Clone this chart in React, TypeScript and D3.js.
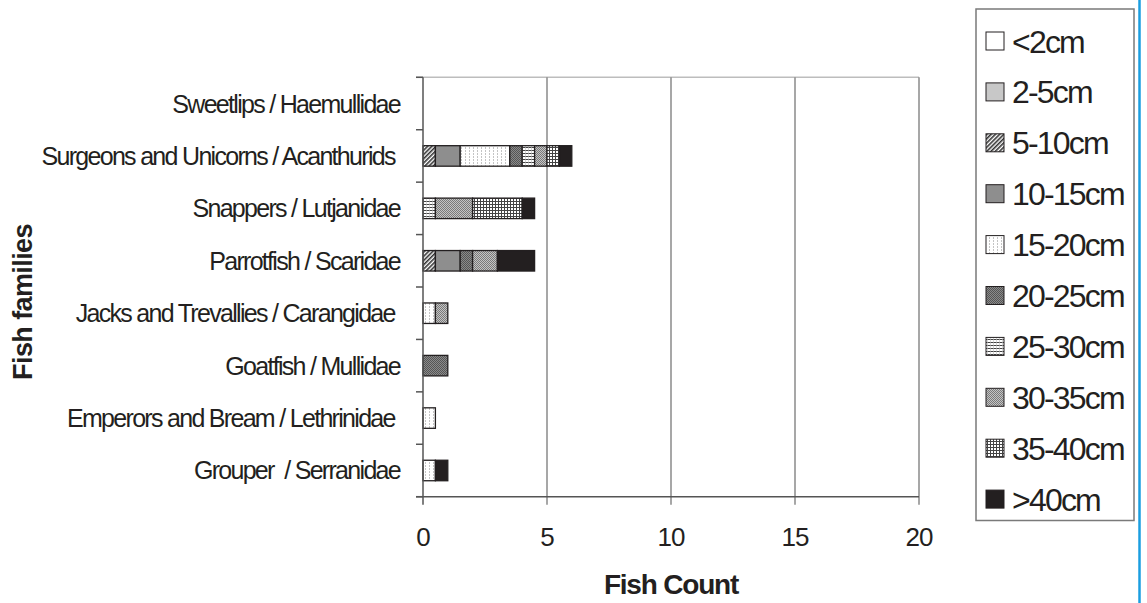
import React from "react";
import * as d3 from "d3";

const families = [
  "Sweetlips / Haemullidae",
  "Surgeons and Unicorns / Acanthurids ",
  "Snappers / Lutjanidae",
  "Parrotfish / Scaridae",
  "Jacks and Trevallies / Carangidae ",
  "Goatfish / Mullidae",
  "Emperors and Bream / Lethrinidae ",
  "Grouper  / Serranidae",
];

const sizeClasses = [
  "<2cm", "2-5cm", "5-10cm", "10-15cm", "15-20cm",
  "20-25cm", "25-30cm", "30-35cm", "35-40cm", ">40cm",
];

// counts per family, in sizeClasses order
const sweetlips = [0, 0, 0, 0, 0, 0, 0, 0, 0, 0];
const surgeons = [0, 0, 0.5, 1, 2, 0.5, 0.5, 0.5, 0.5, 0.5];
const snappers = [0, 0, 0, 0, 0, 0, 0.5, 1.5, 2, 0.5];
const parrotfish = [0, 0, 0.5, 1, 0, 0.5, 0, 1, 0, 1.5];
const jacks = [0, 0, 0, 0, 0.5, 0, 0, 0.5, 0, 0];
const goatfish = [0, 0, 0, 0, 0, 1, 0, 0, 0, 0];
const emperors = [0, 0, 0, 0, 0.5, 0, 0, 0, 0, 0];
const grouper = [0, 0, 0, 0, 0.5, 0, 0, 0, 0, 0.5];

const seriesValues = [sweetlips, surgeons, snappers, parrotfish, jacks, goatfish, emperors, grouper];

const xTicks = [0, 5, 10, 15, 20];

const fills = [
  "#ffffff",
  "#c8c8c8",
  "url(#p510)",
  "#8e8e8e",
  "url(#p1520)",
  "url(#p2025)",
  "url(#p2530)",
  "url(#p3035)",
  "url(#p3540)",
  "#231f20",
];

export default function App() {
  const W = 1147, H = 603;
  const left = 423, right = 919, top = 77.3, bottom = 496.7;
  const x = d3.scaleLinear().domain([0, 20]).range([left, right]);
  const y = d3.scaleBand().domain(families).range([top, bottom]).paddingInner(0).paddingOuter(0);
  const barH = 20.5;

  const rows = families.map((f, i) => {
    const vals = seriesValues[i];
    let acc = 0;
    const segs = vals.map((v, k) => {
      const s = { k, x0: acc, x1: acc + v };
      acc += v;
      return s;
    }).filter((s) => s.x1 > s.x0);
    return { f, segs };
  });

  const legendY0 = 41;
  const legendStep = 50.9;
  const font = "'Liberation Sans', Arial, sans-serif";

  return (
    <svg width={W} height={H} style={{ position: "absolute", left: 0, top: 0, background: "#fff" }} fontFamily={font}>
      <defs>
        <pattern id="p510" width="3" height="3" patternUnits="userSpaceOnUse" patternTransform="rotate(45)">
          <rect width="3" height="3" fill="#fff" />
          <rect width="1.6" height="3" fill="#333" />
        </pattern>
        <pattern id="p1520" width="4" height="3" patternUnits="userSpaceOnUse">
          <rect width="4" height="3" fill="#fff" />
          <rect x="1" y="0" width="1" height="2" fill="#c4c4c4" />
        </pattern>
        <pattern id="p2025" width="2" height="2" patternUnits="userSpaceOnUse">
          <rect width="2" height="2" fill="#8a8a8a" />
          <rect width="1" height="1" fill="#555" />
          <rect x="1" y="1" width="1" height="1" fill="#555" />
        </pattern>
        <pattern id="p2530" width="3" height="3" patternUnits="userSpaceOnUse">
          <rect width="3" height="3" fill="#fff" />
          <rect width="3" height="1" fill="#444" />
          <rect x="0" y="0" width="0.6" height="3" fill="#bbb" />
        </pattern>
        <pattern id="p3035" width="2" height="2" patternUnits="userSpaceOnUse">
          <rect width="2" height="2" fill="#c4c4c4" />
          <rect width="1" height="1" fill="#7a7a7a" />
          <rect x="1" y="1" width="1" height="1" fill="#7a7a7a" />
        </pattern>
        <pattern id="p3540" width="3" height="3" patternUnits="userSpaceOnUse">
          <rect width="3" height="3" fill="#fff" />
          <rect width="3" height="1" fill="#444" />
          <rect width="1" height="3" fill="#444" />
        </pattern>
      </defs>

      {/* top border */}
      <line x1={416} x2={right} y1={top} y2={top} stroke="#bdbdbd" strokeWidth={1.5} />
      {/* gridlines */}
      {xTicks.filter((t) => t > 0).map((t) => (
        <line key={t} x1={x(t)} x2={x(t)} y1={top} y2={bottom + 8} stroke="#8a8a8a" strokeWidth={1.5} />
      ))}

      {/* bars */}
      {rows.map((r) =>
        r.segs.map((s) => (
          <rect
            key={r.f + s.k}
            x={x(s.x0)}
            y={(y(r.f) as number) + y.bandwidth() / 2 - barH / 2}
            width={x(s.x1) - x(s.x0)}
            height={barH}
            fill={fills[s.k]}
            stroke="#231f20"
            strokeWidth={1.3}
          />
        ))
      )}

      {/* y axis */}
      <line x1={left} x2={left} y1={top} y2={bottom + 8} stroke="#555" strokeWidth={1.5} />
      {d3.range(families.length + 1).map((i) => {
        const yy = top + i * y.step();
        return <line key={i} x1={416} x2={left} y1={yy} y2={yy} stroke="#555" strokeWidth={1.5} />;
      })}
      {/* x axis */}
      <line x1={416} x2={right} y1={bottom} y2={bottom} stroke="#555" strokeWidth={1.5} />

      {/* category labels */}
      {families.map((f) => (
        <text
          key={f}
          x={400}
          y={(y(f) as number) + y.bandwidth() / 2}
          dy="0.36em"
          textAnchor="end"
          fontSize={25}
          letterSpacing={-1.7}
          fill="#231f20"
          style={{ whiteSpace: "pre" }}
        >
          {f}
        </text>
      ))}

      {/* x tick labels */}
      {xTicks.map((t) => (
        <text key={t} x={x(t)} y={546} textAnchor="middle" fontSize={26} letterSpacing={-1} fill="#231f20">
          {t}
        </text>
      ))}

      <text x={671} y={594} textAnchor="middle" fontSize={28} fontWeight="bold" letterSpacing={-1.2} fill="#231f20">
        Fish Count
      </text>
      <text
        transform={`translate(32,302) rotate(-90)`}
        textAnchor="middle"
        fontSize={27}
        fontWeight="bold"
        letterSpacing={-0.6}
        fill="#231f20"
      >
        Fish families
      </text>

      {/* legend */}
      <rect x={976} y={9} width={158} height={511.5} fill="#fff" stroke="#7a7a7a" strokeWidth={1.5} />
      {sizeClasses.map((c, i) => {
        const cy = legendY0 + i * legendStep;
        return (
          <g key={c}>
            <rect x={986} y={cy - 9} width={18} height={18} fill={fills[i]} stroke="#231f20" strokeWidth={1} />
            <text x={1012} y={cy} dy="0.36em" fontSize={32} letterSpacing={-1.8} fill="#231f20">
              {c}
            </text>
          </g>
        );
      })}

      {/* blue frame line */}
      <line x1={1139.5} x2={1139.5} y1={0} y2={H} stroke="#1a9ee0" strokeWidth={2.5} />
    </svg>
  );
}
